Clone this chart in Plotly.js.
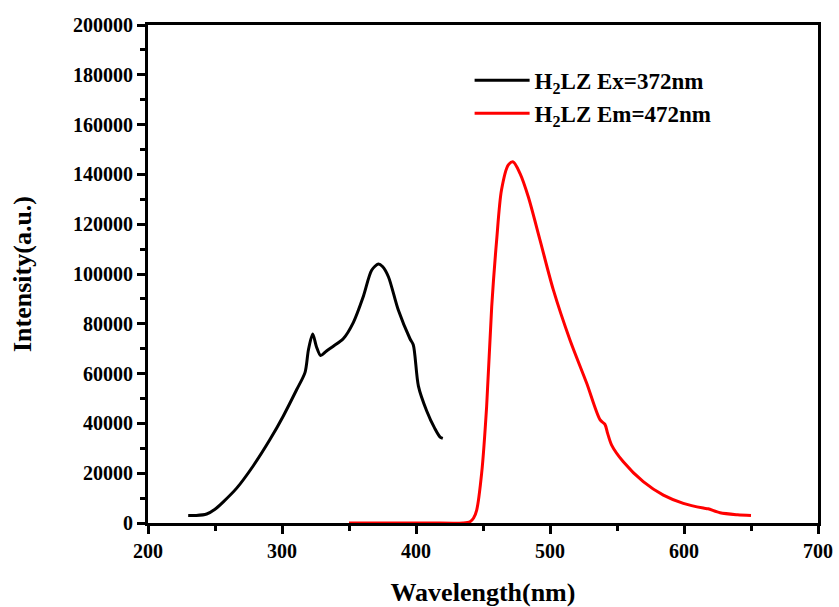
<!DOCTYPE html>
<html>
<head>
<meta charset="utf-8">
<script src="https://cdn.plot.ly/plotly-3.0.1.min.js"></script>
<style>html,body{margin:0;padding:0;background:#fff;}#chart{width:839px;height:607px;}</style>
</head>
<body>
<div id="chart"></div>
<script>
// Excitation spectrum (black)
const exWavelength = [230, 236, 243.8, 250, 256.2, 266.2, 278.6, 291, 301, 310.9, 317.2, 319.7, 322.9, 325.7, 328.8, 333, 338.3, 345.7, 353.2, 360.7, 366.9, 371.9, 375, 379.4, 386.8, 395.5, 398, 401.8, 408, 414, 418, 420];
const exIntensity = [3000, 3000, 3600, 5500, 8500, 14000, 23000, 33500, 43000, 53500, 60500, 69500, 75900, 70800, 67300, 69000, 71000, 74000, 80500, 91000, 101500, 104000, 103000, 98900, 85500, 74000, 71500, 55000, 45000, 38000, 34500, 34000];
// Emission spectrum (red)
const emWavelength = [350, 380, 410, 435, 440.3, 443, 445.3, 449, 452.7, 456.5, 460.2, 463.8, 468.9, 472.6, 477.6, 483.8, 492.5, 502.5, 514.9, 527.4, 537.3, 541, 543, 546, 554.7, 569.6, 584.6, 599.5, 614.4, 618, 626.9, 640, 650];
const emIntensity = [0, 0, 0, 0, 500, 2000, 5200, 20000, 46700, 86900, 113700, 133700, 143800, 145000, 140400, 131000, 113700, 93600, 73500, 56100, 41500, 39600, 36000, 31300, 24600, 16600, 11200, 7900, 6000, 5700, 4100, 3300, 3000];

const seriesNames = ['H<sub>2</sub>LZ Ex=372nm', 'H<sub>2</sub>LZ Em=472nm'];
const xTicks = [200, 300, 400, 500, 600, 700];
const yTicks = [0, 20000, 40000, 60000, 80000, 100000, 120000, 140000, 160000, 180000, 200000];

const font = 'Liberation Serif, Times New Roman, serif';

const traces = [
  {x: exWavelength, y: exIntensity, name: seriesNames[0], legendgroup: 'ex', type: 'scatter', mode: 'lines',
   line: {color: '#000000', width: 3, shape: 'spline', smoothing: 0.8}},
  {x: emWavelength, y: emIntensity, name: seriesNames[1], legendgroup: 'em', type: 'scatter', mode: 'lines',
   line: {color: '#ff0000', width: 3, shape: 'spline', smoothing: 0.8}}
];

const axisCommon = {
  showline: true, linewidth: 3, linecolor: '#000', mirror: true,
  ticks: 'outside', ticklen: 8, tickwidth: 3, tickcolor: '#000',
  showgrid: false, zeroline: false,
  tickfont: {family: font, size: 20, color: '#000', weight: 'bold'}
};

const layout = {
  width: 839, height: 607,
  margin: {l: 148, r: 21, t: 25, b: 84},
  paper_bgcolor: '#fff', plot_bgcolor: '#fff',
  showlegend: true,
  legend: {x: 0.48, y: 0.932, xanchor: 'left', yanchor: 'top', bgcolor: 'rgba(0,0,0,0)',
           font: {family: font, size: 23, color: '#000', weight: 'bold'}, itemwidth: 55,
           tracegroupgap: 0},
  xaxis: Object.assign({}, axisCommon, {
    range: [200, 700], tickvals: xTicks, ticktext: xTicks.map(String),
    minor: {dtick: 50, tick0: 200, ticks: 'outside', ticklen: 5, tickwidth: 3, tickcolor: '#000'},
    title: {text: 'Wavelength(nm)', font: {family: font, size: 26, color: '#000', weight: 'bold'}, standoff: 22}
  }),
  yaxis: Object.assign({}, axisCommon, {
    range: [0, 200000], tickvals: yTicks, ticktext: yTicks.map(String),
    minor: {dtick: 10000, tick0: 0, ticks: 'outside', ticklen: 5, tickwidth: 3, tickcolor: '#000'},
    title: {text: 'Intensity(a.u.)', font: {family: font, size: 26, color: '#000', weight: 'bold'}, standoff: 34}
  })
};

Plotly.newPlot('chart', traces, layout, {displayModeBar: false, staticPlot: true});
</script>
</body>
</html>
